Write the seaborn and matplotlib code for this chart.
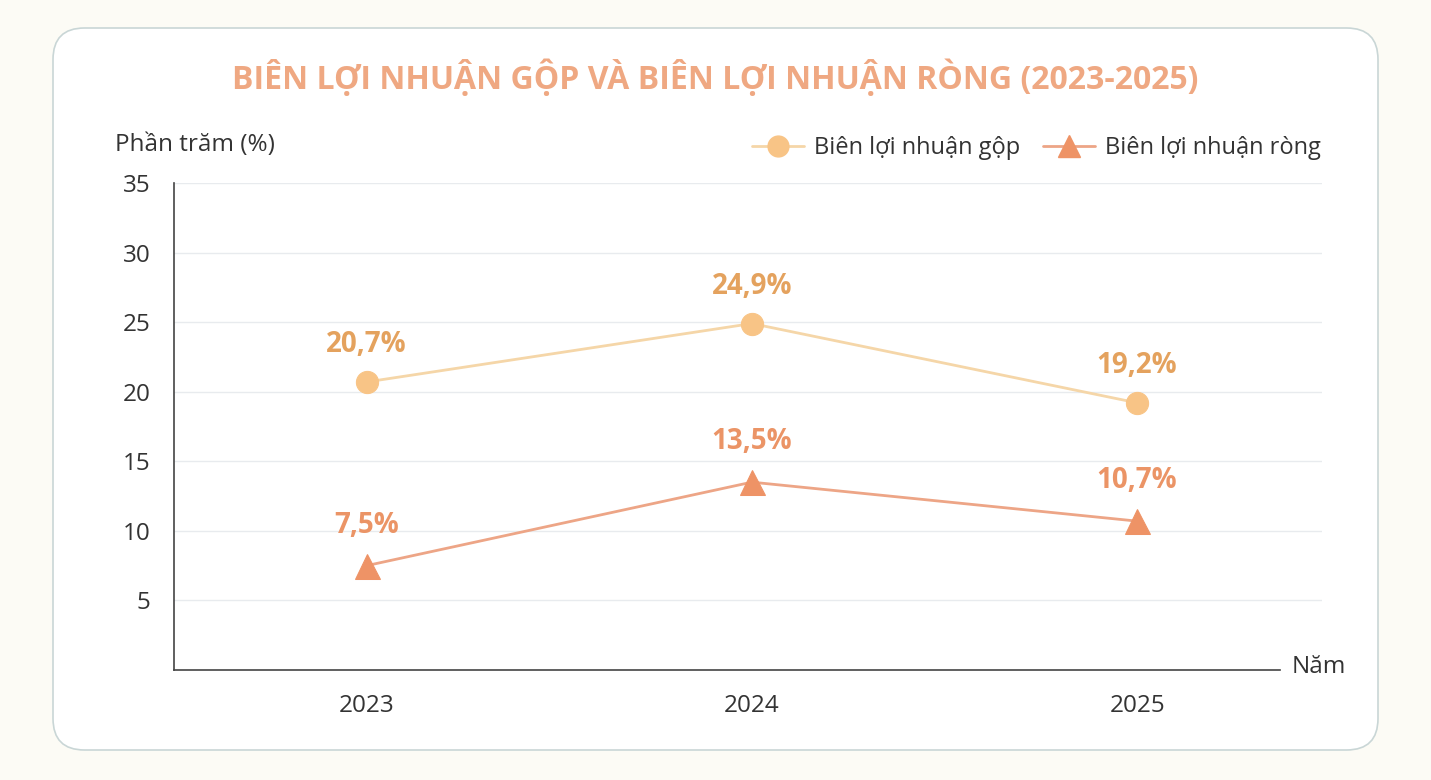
import numpy as np
import pandas as pd
import seaborn as sns
import matplotlib.pyplot as plt
from matplotlib.patches import FancyBboxPatch
from matplotlib.lines import Line2D

years = ['2023', '2024', '2025']
gross_margin = [20.7, 24.9, 19.2]
net_margin = [7.5, 13.5, 10.7]
gross_labels = ['20,7%', '24,9%', '19,2%']
net_labels = ['7,5%', '13,5%', '10,7%']
y_ticks = [5, 10, 15, 20, 25, 30, 35]

sns.set_theme(style='white')
plt.rcParams['font.family'] = ['Open Sans', 'DejaVu Sans']

fig = plt.figure(figsize=(14.31, 7.8), dpi=100)
fig.patch.set_facecolor('#FCFBF5')
W, H = 1431, 780

# white card with rounded corners
card = FancyBboxPatch((53 / W, (H - 750) / H), (1378 - 53) / W, (750 - 28) / H,
                      boxstyle='round,pad=0,rounding_size=0.022',
                      transform=fig.transFigure, facecolor='white',
                      edgecolor='#C9D6D6', linewidth=1.2, mutation_aspect=W / H,
                      zorder=-1)
fig.patches.append(card)

ax = fig.add_axes([174 / W, (H - 670) / H, (1322 - 174) / W, (670 - 183) / H])
ax.set_facecolor('none')

df = pd.DataFrame({'year': np.arange(len(years)), 'gross': gross_margin, 'net': net_margin})

sns.lineplot(data=df, x='year', y='gross', ax=ax, color='#F5D6A8', linewidth=2,
             marker='o', markersize=16, markerfacecolor='#F8C486',
             markeredgecolor='#F8C486', zorder=3)
sns.lineplot(data=df, x='year', y='net', ax=ax, color='#EDA586', linewidth=2,
             marker='^', markersize=18, markerfacecolor='#EE9366',
             markeredgecolor='#EE9366', zorder=3)

for i, (v, lab) in enumerate(zip(gross_margin, gross_labels)):
    ax.annotate(lab, (i, v), xytext=(0, 27), textcoords='offset points',
                ha='center', va='center', fontsize=20, fontweight='bold', color='#E4A25E')
for i, (v, lab) in enumerate(zip(net_margin, net_labels)):
    ax.annotate(lab, (i, v), xytext=(0, 29), textcoords='offset points',
                ha='center', va='center', fontsize=20, fontweight='bold', color='#EB9466')

ax.set_xlim(-0.5, 2.48)
ax.set_ylim(0, 35)
ax.set_yticks(y_ticks)
ax.set_yticklabels([str(t) for t in y_ticks], fontsize=17.5, color='#333333')
ax.set_xticks(range(len(years)))
ax.set_xticklabels(years, fontsize=17.5, color='#333333')
ax.tick_params(axis='both', length=0)
ax.tick_params(axis='y', pad=17)
ax.tick_params(axis='x', pad=17)
ax.grid(axis='y', color='#E8EBEE', linewidth=1)
ax.set_axisbelow(True)
ax.set_xlabel('')
ax.set_ylabel('')

for s in ['top', 'right']:
    ax.spines[s].set_visible(False)
ax.spines['left'].set_color('#444444')
ax.spines['bottom'].set_color('#444444')
ax.spines['left'].set_linewidth(1.2)
ax.spines['bottom'].set_linewidth(1.2)
ax.spines['bottom'].set_bounds(-0.5, 2.37)

fig.text(715 / W, 1 - 78 / H, 'BIÊN LỢI NHUẬN GỘP VÀ BIÊN LỢI NHUẬN RÒNG (2023-2025)',
         ha='center', va='center', fontsize=23, fontweight='bold', color='#EFA882')
fig.text(115 / W, 1 - 145 / H, 'Phần trăm (%)', ha='left', va='center',
         fontsize=17.5, color='#333333')
fig.text(1292 / W, 1 - 667 / H, 'Năm', ha='left', va='center',
         fontsize=17.5, color='#333333')

handles = [
    Line2D([], [], color='#F5D6A8', linewidth=2, marker='o', markersize=15,
           markerfacecolor='#F8C486', markeredgecolor='#F8C486'),
    Line2D([], [], color='#EDA586', linewidth=2, marker='^', markersize=16,
           markerfacecolor='#EE9366', markeredgecolor='#EE9366'),
]
fig.legend(handles, ['Biên lợi nhuận gộp', 'Biên lợi nhuận ròng'],
           loc='center right', bbox_to_anchor=(1342 / W, 1 - 148 / H), ncol=2,
           frameon=False, fontsize=17, handlelength=2.2, handletextpad=0.4,
           columnspacing=1.0, labelcolor='#333333')

fig.savefig('out.png', dpi=100, facecolor=fig.get_facecolor())
